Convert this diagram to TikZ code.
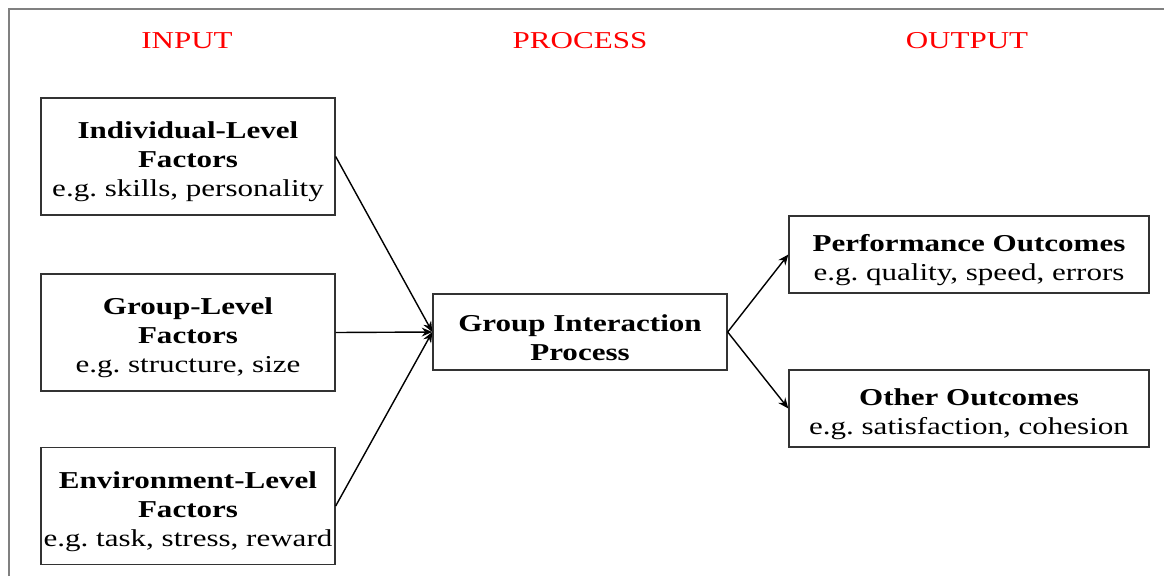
\documentclass[tikz,border=0pt]{standalone}
\usepackage{fontspec}
\setmainfont{Liberation Serif}[FakeStretch=1.28]
\usepackage{xcolor}
\usepackage{tikz}
\usetikzlibrary{arrows.meta}
\definecolor{frame}{HTML}{808080}
\definecolor{border}{HTML}{333333}
\definecolor{headred}{HTML}{FF0000}
\frenchspacing
\newcommand{\boxlift}{\rule{0pt}{15.7pt}}
\tikzset{
  frameline/.style={line width=1.2pt, draw=frame},
  head/.style={text=headred, font=\fontsize{13.8}{16.4}\selectfont},
  inbox/.style={draw=border, line width=0.8pt, align=center, inner sep=0pt,
    minimum width=5.88cm, minimum height=2.34cm,
    font=\fontsize{13.8}{16.6}\selectfont},
  procbox/.style={inbox, minimum height=1.52cm},
  outbox/.style={inbox, minimum width=7.2cm, minimum height=1.54cm},
  arr/.style={-{Stealth[length=6pt,width=5pt]}, line width=0.8pt, draw=black}
}
\begin{document}
\begin{tikzpicture}[x=0.02cm, y=-0.02cm]
  \useasboundingbox (0,0) rectangle (1164,576);
  \draw[frameline] (9,576) -- (9,9) -- (1164,9);

  \node[head] (hin) at (187,41) {INPUT};
  \node[head] (hproc) at (580,41) {PROCESS};
  \node[head] (hout) at (967,41) {OUTPUT};

  \node[inbox] (indiv) at (188,156.5) {\boxlift\textbf{Individual-Level}\\\textbf{Factors}\\e.g. skills, personality};
  \node[inbox] (group) at (188,332.5) {\boxlift\textbf{Group-Level}\\\textbf{Factors}\\e.g. structure, size};
  \node[inbox] (env) at (188,506) {\boxlift\textbf{Environment-Level}\\\textbf{Factors}\\e.g. task, stress, reward};

  \node[procbox] (gip) at (580,332) {\boxlift\textbf{Group Interaction}\\\textbf{Process}};

  \node[outbox] (perf) at (969,254.5) {\boxlift\textbf{Performance Outcomes}\\e.g. quality, speed, errors};
  \node[outbox] (other) at (969,408.5) {\boxlift\textbf{Other Outcomes}\\e.g. satisfaction, cohesion};

  \draw[arr] (indiv.east) -- (gip.west);
  \draw[arr] (group.east) -- (gip.west);
  \draw[arr] (env.east) -- (gip.west);
  \draw[arr] (gip.east) -- (perf.west);
  \draw[arr] (gip.east) -- (other.west);
\end{tikzpicture}
\end{document}
